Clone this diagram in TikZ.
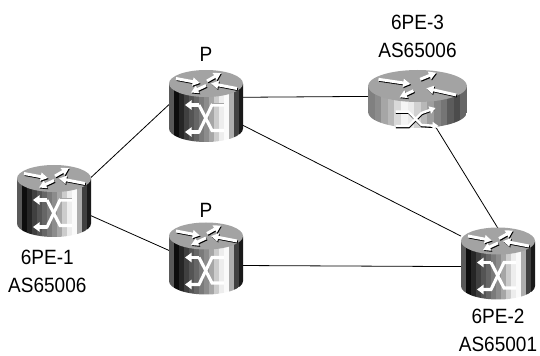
\documentclass[tikz,border=0pt]{standalone}
\usepackage{fontspec}
\setmainfont[FakeStretch=0.92]{Liberation Sans}
\usetikzlibrary{arrows.meta, positioning}
\pgfdeclarelayer{background}
\pgfsetlayers{background,main}
\definecolor{topgray}{gray}{0.64}
\newcommand{\WhiteArrow}[2]{%
  \draw[arrowshade, shift={(0.8,-1)}] #1 -- #2;
  \draw[arrowwhite] #1 -- #2;
}
\tikzset{
    x=0.75pt, y=0.75pt,
    hide/.style={draw=none, fill=none, inner sep=0pt, outer sep=0pt},
    routerbox/.style={hide, minimum width=55.5pt, minimum height=53.5pt},
    flatbox/.style={hide, minimum width=74.25pt, minimum height=43.5pt},
    arrowwhite/.style={white, line width=2.2pt, -{Triangle[length=5.5pt, width=6pt]}},
    arrowshade/.style={black, line width=2.2pt, -{Triangle[length=5.5pt, width=6pt]}},
    link/.style={black, line width=0.6pt},
    txt/.style={hide, font=\fontsize{15.5}{21}\selectfont, align=center},
    router/.pic = {
      \begin{scope}
        \clip (-37,22.5) -- (-37,-22) arc[start angle=180, end angle=360, x radius=37, y radius=13.5] -- (37,22.5) -- cycle;
        \foreach \pos/\lev in {-37/0.35, -32/0.05, -27/0.15, -22/0.25, -17/0.33, -12/0.4, -7/0.48, -2/0.55, 3/0.65, 8/0.8, 13/0.93, 18/0.98, 23/0.68, 28/0.25, 33/0.1}
          \fill[fill=white!\fpeval{\lev*100}!black] (\pos,-36) rectangle (\pos+5.2,23);
      \end{scope}
      \fill[topgray] (0,23) ellipse[x radius=37, y radius=13.5];
      \WhiteArrow{(-30,28)}{(-6,23.5)}
      \WhiteArrow{(1,25.5)}{(15,33.5)}
      \WhiteArrow{(0,21)}{(-15,14)}
      \WhiteArrow{(31,18)}{(5,23)}
      \begin{scope}[line width=2.3pt]
        \draw[black, line width=0.6pt, shift={(0.6,0.8)}] (5,2) -- (17,2);
        \draw[black, line width=0.6pt, shift={(0.6,0.8)}] (5,-24) -- (17,-24);
        \draw[white] (18,1.5) -- (6,1.5) -- (-7,-25.5) -- (-16,-25.5);
        \draw[white, -{Triangle[length=5pt, width=7pt]}] (-7,-25.5) -- (-21,-25.5);
        \draw[white, -{Triangle[length=5pt, width=7pt]}] (-7,1.5) -- (-21,1.5);
        \draw[white] (-7,1.5) -- (6,-24) -- (18,-24);
      \end{scope}
    },
    flatrouter/.pic = {
      \begin{scope}
        \clip (-49.5,13) -- (-49.5,-13) arc[start angle=180, end angle=360, x radius=49.5, y radius=16] -- (49.5,13) -- cycle;
        \foreach \pos/\lev in {-49.5/0.5, -43/0.55, -36.4/0.65, -29.8/0.72, -23.2/0.85, -16.6/0.96, -10/0.92, -3.4/0.82, 3.2/0.72, 9.8/0.62, 16.4/0.52, 23/0.46, 29.6/0.36, 36.2/0.3, 42.8/0.4}
          \fill[fill=white!\fpeval{\lev*100}!black] (\pos,-30) rectangle (\pos+6.8,14);
      \end{scope}
      \fill[topgray] (0,13) ellipse[x radius=49.5, y radius=16];
      \WhiteArrow{(-39,19.7)}{(-7,15)}
      \WhiteArrow{(2.7,19.7)}{(18.7,26.3)}
      \WhiteArrow{(-4,8.3)}{(-18,1.7)}
      \WhiteArrow{(38.7,4)}{(8.7,10.7)}
      \begin{scope}[line width=1.8pt]
        \draw[black, line width=1.6pt, shift={(0.3,-1.2)}] (-22,-12.7) -- (-9,-12.7) -- (4,-26) -- (18,-27);
        \draw[black, line width=1.6pt, shift={(0.3,-1.2)}] (-22,-27) -- (-9,-27) -- (4,-14) -- (16,-9.5);
        \draw[white, -{Triangle[length=4.5pt, width=5.5pt]}] (-22,-12.7) -- (-9,-12.7) -- (4,-26) -- (21,-27);
        \draw[white, -{Triangle[length=4.5pt, width=5.5pt]}] (-22,-27) -- (-9,-27) -- (4,-14) -- (18,-9);
      \end{scope}
    },
}
\begin{document}
\begin{tikzpicture}
    \useasboundingbox (0,0) rectangle (540,-356);

    \node[routerbox] (pe1) at (54,-201.5) {};
    \node[routerbox] (p1) at (206,-106.5) {};
    \node[routerbox] (p2) at (206,-259) {};
    \node[routerbox] (pe2) at (498,-264) {};
    \node[flatbox] (pe3) at (417.5,-99) {};

    \pic at (pe1) {router};
    \pic at (p1) {router};
    \pic at (p2) {router};
    \pic at (pe2) {router};
    \pic at (pe3) {flatrouter};

    \begin{pgfonlayer}{background}
      \draw[link] (pe1.33.5) -- (p1.177.6);
      \draw[link] (pe1.-21.4) -- (p2.167.5);
      \draw[link] (p1.14.4) -- (pe3.177.7);
      \draw[link] (p1.-27.8) -- (pe2.143.4);
      \draw[link] (p2.-10.7) -- (pe2.184.8);
      \draw[link] (pe3.-57.5) -- (pe2.north);
    \end{pgfonlayer}

    \node[txt, above=7pt of p1] (p1text) {P};
    \node[txt, above=4pt of p2] (p2text) {P};
    \node[txt, below=9.5pt of pe1, xshift=-5pt] (pe1text) {6PE-1\\AS65006};
    \node[txt, below=7pt of pe2] (pe2text) {6PE-2\\AS65001};
    \node[txt, above=9pt of pe3] (pe3text) {6PE-3\\AS65006};
\end{tikzpicture}
\end{document}
